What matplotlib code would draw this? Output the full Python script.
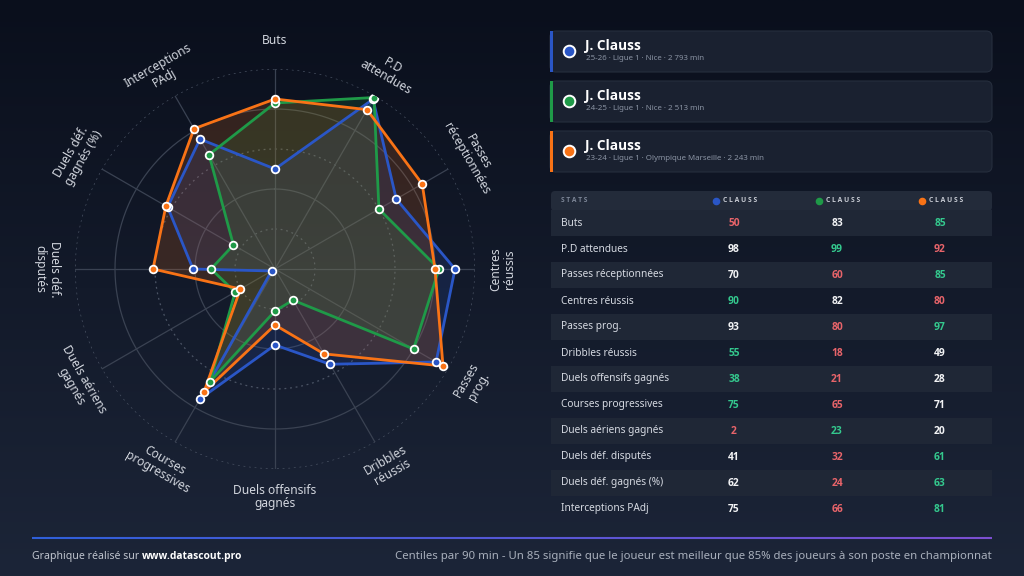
import numpy as np
import matplotlib.pyplot as plt
from matplotlib.patches import FancyBboxPatch, Rectangle
from matplotlib.collections import LineCollection
from matplotlib.colors import to_rgb

plt.rcParams['font.family'] = ['Noto Sans', 'DejaVu Sans']
BOLD = ['Open Sans', 'DejaVu Sans']

# Data
categories = ["Buts", "P.D attendues", "Passes réceptionnées", "Centres réussis",
              "Passes prog.", "Dribbles réussis", "Duels offensifs gagnés",
              "Courses progressives", "Duels aériens gagnés", "Duels déf. disputés",
              "Duels déf. gagnés (%)", "Interceptions PAdj"]
axis_labels = ["Buts", "P.D\nattendues", "Passes\nréceptionnées", "Centres\nréussis",
               "Passes\nprog.", "Dribbles\nréussis", "Duels offensifs\ngagnés",
               "Courses\nprogressives", "Duels aériens\ngagnés", "Duels déf.\ndisputés",
               "Duels déf.\ngagnés (%)", "Interceptions\nPAdj"]
season_2526 = [50, 98, 70, 90, 93, 55, 38, 75, 2, 41, 62, 75]
season_2425 = [83, 99, 60, 82, 80, 18, 21, 65, 23, 32, 24, 66]
season_2324 = [85, 92, 85, 80, 97, 49, 28, 71, 20, 61, 63, 81]
players = ["J. Clauss", "J. Clauss", "J. Clauss"]
subtitles = ["25-26 · Ligue 1 · Nice · 2 793 min",
             "24-25 · Ligue 1 · Nice · 2 513 min",
             "23-24 · Ligue 1 · Olympique Marseille · 2 243 min"]
colors = ["#2a56c6", "#1f9a48", "#f97316"]
series = [season_2526, season_2425, season_2324]

fig = plt.figure(figsize=(10.24, 5.76), dpi=100)

# background axes in pixel coordinates
bg = fig.add_axes([0, 0, 1, 1], zorder=-1)
bg.set_xlim(0, 1024)
bg.set_ylim(576, 0)
bg.axis('off')
top, bot = np.array(to_rgb("#0a0f1c")), np.array(to_rgb("#1c2538"))
grad = np.linspace(0, 1, 256)[:, None, None] * (bot - top) + top
grad = np.repeat(grad, 2, axis=1)
bg.imshow(grad, extent=[0, 1024, 576, 0], aspect='auto', zorder=0)

# radar
ax = fig.add_axes([75 / 1024, 107 / 576, 400 / 1024, 400 / 576], projection='polar')
ax.set_theta_zero_location('N')
ax.set_theta_direction(-1)
ax.patch.set_alpha(0)
ax.spines['polar'].set_visible(False)
ax.grid(False)
ax.set_xticks([])
ax.set_yticks([])
ax.set_ylim(0, 100)

n = len(categories)
angles = np.linspace(0, 2 * np.pi, n, endpoint=False)
circle = np.linspace(0, 2 * np.pi, 300)
for r in [20, 40, 60, 80, 100]:
    if r in (40, 80):
        ax.plot(circle, [r] * len(circle), color="#3a4252", lw=0.9, zorder=1)
    else:
        ax.plot(circle, [r] * len(circle), color="#4b5465", lw=0.9, ls=(0, (1.5, 3)), zorder=1)
for a in angles:
    ax.plot([a, a], [0, 100], color="#3a4252", lw=0.9, zorder=1)

closed = np.concatenate([angles, angles[:1]])
for vals, c in zip(series, colors):
    v = vals + vals[:1]
    ax.fill(closed, v, color=c, alpha=0.17, zorder=2, lw=0)
    ax.plot(closed, v, color=c, lw=2, zorder=3)
    ax.plot(angles, vals, 'o', color=c, ms=5.5, mec='white', mew=1.3, zorder=4)

for a, lab in zip(angles, axis_labels):
    deg = np.degrees(a)
    if deg < 90:
        rot = -deg
    elif deg <= 270:
        rot = 180 - deg
    else:
        rot = 360 - deg
    ax.text(a, 114, lab, rotation=rot, rotation_mode='anchor', ha='center', va='center',
            fontsize=8.6, color="#d2d6de", linespacing=1.1)

# player cards
for i, (name, sub, c) in enumerate(zip(players, subtitles, colors)):
    y0 = 31 + 50 * i
    bg.add_patch(FancyBboxPatch((550, y0), 442, 41, boxstyle="round,pad=0,rounding_size=6",
                                fc="#1a2130", ec="#262e3d", lw=0.8, zorder=1))
    bg.add_patch(Rectangle((550, y0), 3, 41, fc=c, ec='none', zorder=2))
    bg.scatter(569, y0 + 20, s=70, c=c, edgecolors='white', linewidths=1.4, zorder=3)
    bg.text(585, y0 + 15, name, fontsize=9.8, fontweight='bold', family=BOLD,
            color='white', va='center', zorder=3)
    bg.text(586, y0 + 28, sub, fontsize=5.7, color="#8a93a3", va='center', zorder=3)

# table
col_x = [734, 837, 940]
bg.add_patch(FancyBboxPatch((551, 191), 441, 20, boxstyle="round,pad=0,rounding_size=4",
                            fc="#232b3a", ec='none', zorder=1))
bg.text(561, 201, "S T A T S", fontsize=4.8, color="#7d8697", fontweight='bold', family=BOLD,
        va='center', zorder=2)
for x, c in zip(col_x, colors):
    bg.scatter(x - 18, 201, s=20, c=c, zorder=2)
    bg.text(x - 11, 201, "C L A U S S", fontsize=4.9, color="#c8ccd4", fontweight='bold', family=BOLD,
            va='center', zorder=2)

for i, cat in enumerate(categories):
    yc = 223 + 26 * i
    if i % 2 == 0:
        bg.add_patch(Rectangle((551, yc - 13), 441, 26, fc="#1f2736", ec='none', zorder=1))
    bg.text(561, yc, cat, fontsize=7.3, color="#d6dae2", va='center', zorder=2)
    row = [s[i] for s in series]
    for x, v in zip(col_x, row):
        if v == max(row):
            vc = "#34c98e"
        elif v == min(row):
            vc = "#e8646a"
        else:
            vc = "#f2f3f5"
        bg.text(x, yc, str(v), fontsize=7.4, color=vc, fontweight='bold', family=BOLD,
                ha='center', va='center', zorder=2)

# footer
xs = np.linspace(32, 992, 200)
segs = [[(xs[k], 538), (xs[k + 1], 538)] for k in range(len(xs) - 1)]
c1, c2 = np.array(to_rgb("#2f5fd9")), np.array(to_rgb("#7b4fd0"))
seg_cols = [c1 + (c2 - c1) * t for t in np.linspace(0, 1, len(segs))]
bg.add_collection(LineCollection(segs, colors=seg_cols, lw=1.5, zorder=2))

t1 = bg.text(32, 556, "Graphique réalisé sur ", fontsize=7.6, color="#c0c5ce", va='center', zorder=2)
bg.annotate("www.datascout.pro", xy=(1, 0.5), xycoords=t1, va='center', ha='left',
            fontsize=7.4, fontweight='bold', family=BOLD, color='white', zorder=2)
bg.text(992, 556, "Centiles par 90 min - Un 85 signifie que le joueur est meilleur que 85% des joueurs à son poste en championnat",
        fontsize=8.2, color="#a9b0bc", ha='right', va='center', zorder=2)

fig.savefig("out.png", dpi=100)
